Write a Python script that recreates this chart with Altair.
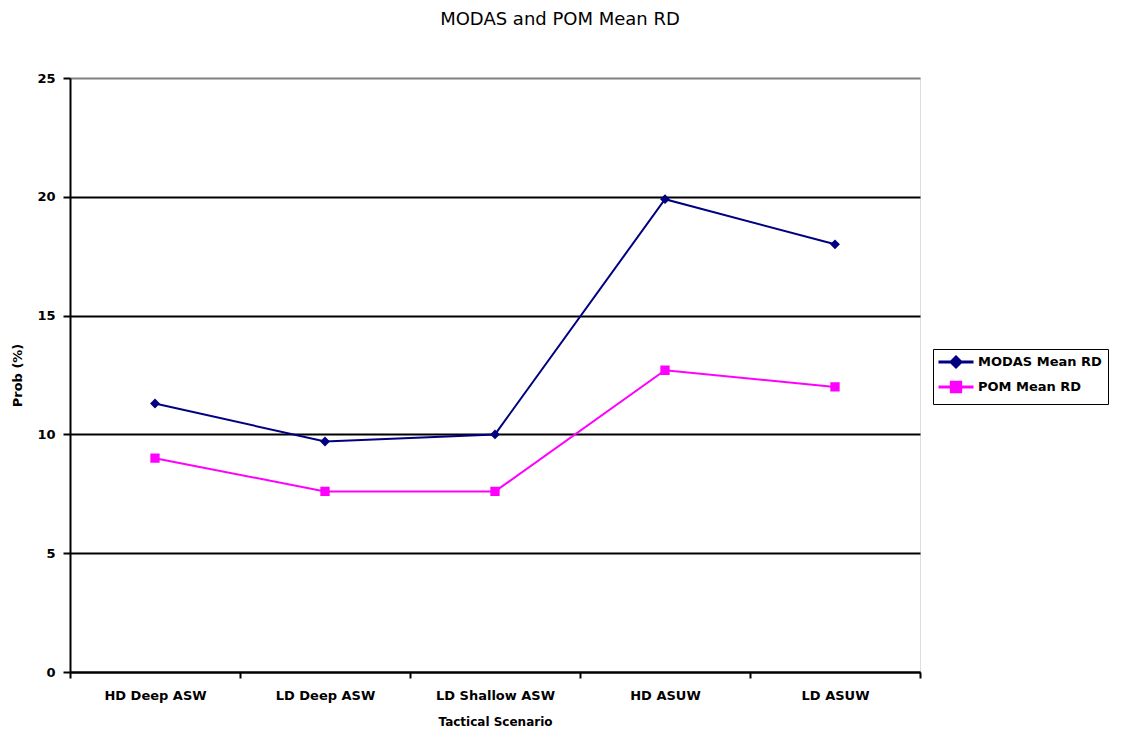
import altair as alt
import pandas as pd

scenarios = ["HD Deep ASW", "LD Deep ASW", "LD Shallow ASW", "HD ASUW", "LD ASUW"]
modas_values = [11.3, 9.7, 10.0, 19.9, 18.0]
pom_values = [9.0, 7.6, 7.6, 12.7, 12.0]
series_names = ["MODAS Mean RD", "POM Mean RD"]
series_colors = ["#000080", "#FF00FF"]
y_ticks = [0, 5, 10, 15, 20, 25]

# custom symbols: a horizontal stroke (visible only in the legend) plus the marker
diamond_path = "M-3.2,0H3.2M0,-0.9L0.9,0L0,0.9L-0.9,0Z"
square_path = "M-3.2,0H3.2M-0.85,-0.85H0.85V0.85H-0.85Z"

rows = []
for s, vals in zip(series_names, [modas_values, pom_values]):
    for sc, v in zip(scenarios, vals):
        rows.append({"scenario": sc, "value": v, "series": s})
df = pd.DataFrame(rows)

FONT = "DejaVu Sans"

x_enc = alt.X(
    "scenario:N",
    sort=scenarios,
    scale=alt.Scale(paddingInner=0, paddingOuter=0),
    axis=alt.Axis(
        title="Tactical Scenario",
        labelAngle=0,
        tickBand="extent",
        ticks=True,
        tickSize=6,
        tickColor="black",
        tickWidth=2,
        domainColor="black",
        domainWidth=2,
        labelFont=FONT,
        labelFontSize=13,
        labelFontWeight="bold",
        labelColor="black",
        labelPadding=11,
        titleFont=FONT,
        titleFontSize=12,
        titleFontWeight="bold",
        titleColor="black",
        titlePadding=14,
        grid=False,
    ),
)

y_enc = alt.Y(
    "value:Q",
    scale=alt.Scale(domain=[0, 25], nice=False, zero=True),
    axis=alt.Axis(
        values=y_ticks,
        title="Prob (%)",
        grid=True,
        gridColor={"condition": {"test": "datum.value == 25", "value": "#808080"}, "value": "black"},
        gridWidth=2,
        ticks=True,
        tickSize=7,
        tickColor="black",
        tickWidth=2,
        domainColor="black",
        domainWidth=2,
        labelFont=FONT,
        labelFontSize=13,
        labelFontWeight="bold",
        labelColor="black",
        labelPadding=8,
        titleFont=FONT,
        titleFontSize=13,
        titleFontWeight="bold",
        titleColor="black",
        titlePadding=12,
    ),
)

legend_opts = dict(
    title=None,
    orient="none",
    legendX=863,
    legendY=271,
    padding=6,
    strokeColor="black",
    fillColor="white",
    symbolStrokeWidth=3,
    symbolSize=120,
    symbolOffset=10,
    labelOffset=15,
    labelFont=FONT,
    labelFontSize=13,
    labelFontWeight="bold",
    labelColor="black",
    rowPadding=3,
    labelLimit=200,
)

lines = alt.Chart(df).mark_line(strokeWidth=2).encode(
    x=x_enc,
    y=y_enc,
    color=alt.Color("series:N", scale=alt.Scale(range=series_colors), legend=None),
    detail="series:N",
)

points = alt.Chart(df).mark_point(filled=True, size=120, strokeWidth=0, opacity=1).encode(
    x=alt.X("scenario:N", sort=scenarios),
    y=alt.Y("value:Q"),
    fill=alt.Fill("series:N", scale=alt.Scale(domain=series_names, range=series_colors), legend=alt.Legend(**legend_opts)),
    stroke=alt.Stroke("series:N", scale=alt.Scale(domain=series_names, range=series_colors), legend=alt.Legend(**legend_opts)),
    shape=alt.Shape("series:N", scale=alt.Scale(domain=series_names, range=[diamond_path, square_path]), legend=alt.Legend(**legend_opts)),
)

chart = (
    alt.layer(lines, points)
    .properties(
        width=850,
        height=594,
        autosize=alt.AutoSizeParams(type="none"),
        padding={"left": 62, "top": 70, "right": 194, "bottom": 58},
        title=alt.Title(
            "MODAS and POM Mean RD",
            font=FONT,
            fontSize=18,
            fontWeight="normal",
            color="black",
            anchor="middle",
            offset=43,
            dx=65,
        ),
    )
    .configure_view(stroke="#808080", strokeWidth=2)
    .configure_legend(strokeColor="black", strokeWidth=2, fillColor="white")
    .configure(background="white")
)

chart.save("out.html", embed_options={"renderer": "svg", "actions": False})
